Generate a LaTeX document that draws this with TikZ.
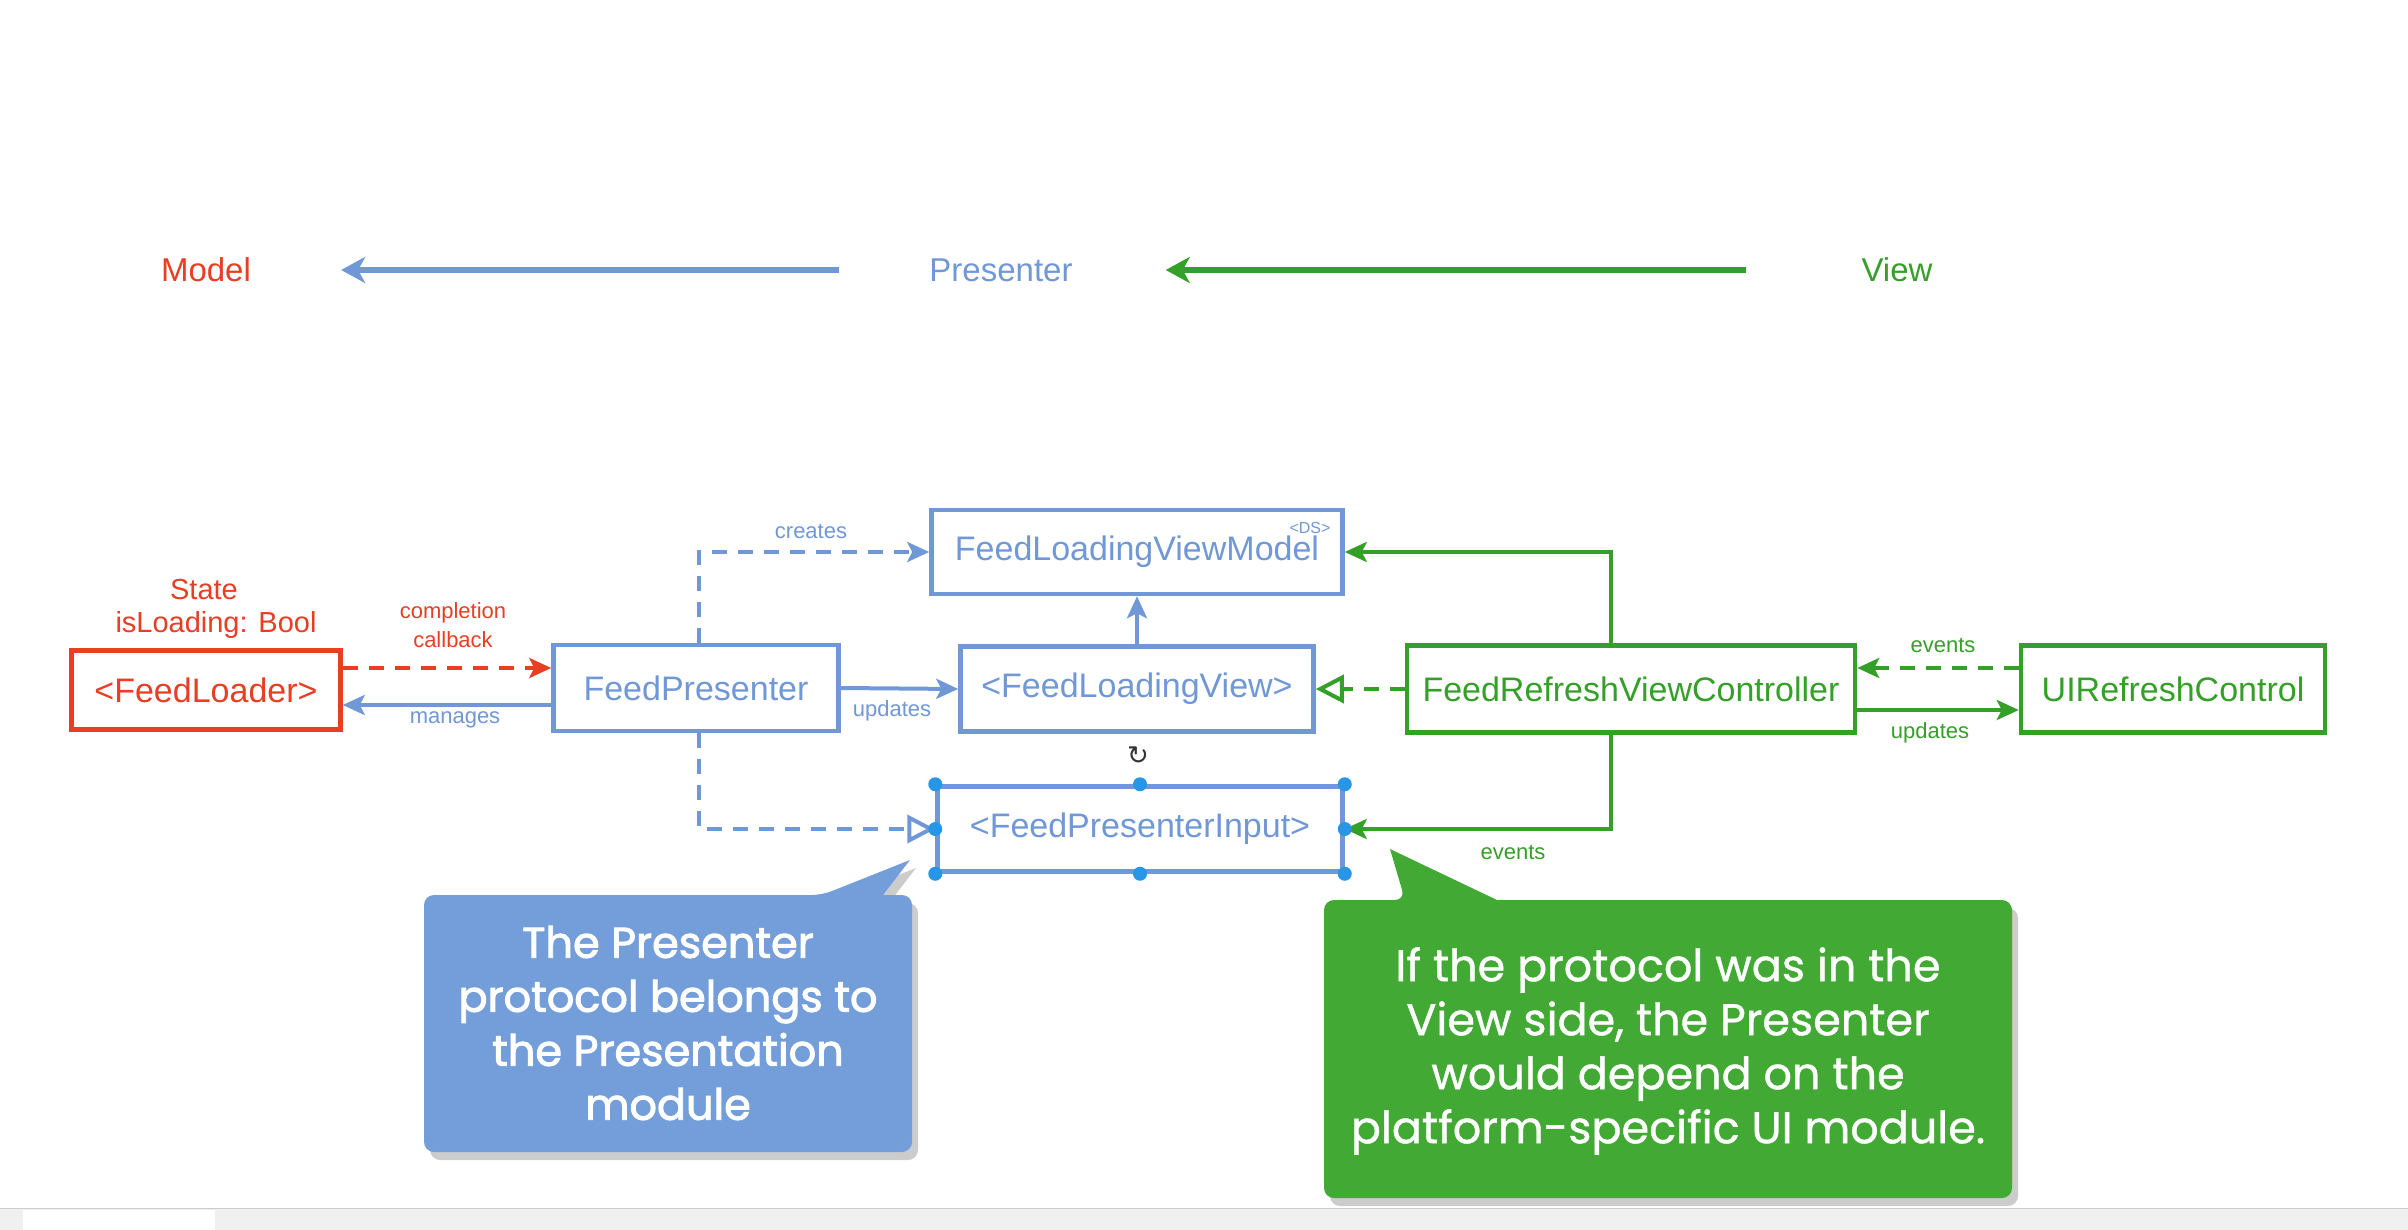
\documentclass[tikz,border=0pt]{standalone}
\usepackage{fontspec}
\setmainfont{Liberation Sans}
\newfontfamily\callfontB[FakeBold=2.2]{Poppins}
\newfontfamily\callfontG[FakeBold=0.9]{Poppins}
\newfontfamily\symfont{DejaVu Sans}
\usetikzlibrary{arrows.meta,shadows,calc}
\definecolor{mred}{RGB}{231,62,36}
\definecolor{mblue}{RGB}{112,152,214}
\definecolor{mgreen}{RGB}{52,160,40}
\definecolor{cblue}{RGB}{116,158,218}
\definecolor{cgreen}{RGB}{66,170,52}
\definecolor{hblue}{RGB}{40,150,230}
\begin{document}
\begin{tikzpicture}[x=1pt,y=-1pt,
  box/.style={draw,line width=4.5pt,inner sep=0pt,font=\fontsize{34}{40}\selectfont},
  lbl/.style={inner sep=0pt,font=\fontsize{22}{26}\selectfont},
  head/.style={inner sep=0pt,font=\fontsize{33}{38}\selectfont},
  arr/.style={line width=4pt,-{Stealth[length=22pt,width=20pt,inset=5pt]}},
  oarr/.style={line width=4pt,-{Triangle[open,length=28pt,width=28pt,line width=4pt]}},
  dsh/.style={dash pattern=on 15pt off 11pt},
  bigarr/.style={line width=6pt,-{Stealth[length=24pt,width=26pt,inset=7pt]}},
  calltext/.style={align=center,text=white,inner sep=0pt},
  callshadow/.style={drop shadow={shadow xshift=6pt,shadow yshift=-8pt,opacity=0.2,fill=black}}
]
\useasboundingbox (0,0) rectangle (2408,1230);
\fill[white] (0,0) rectangle (2408,1230);

% header
\node[head,text=mred] (mo) at (206,270) {Model};
\node[head,text=mblue] (pr) at (1001,270) {Presenter};
\node[head,text=mgreen] (vw) at (1897,270) {View};
\draw[bigarr,mblue,shorten <=90pt,shorten >=90pt] (pr.west) -- (mo.east);
\draw[bigarr,mgreen,shorten <=115pt,shorten >=93pt] (vw.west) -- (pr.east);

% boxes
\node[box,draw=mred,text=mred,minimum width=269pt,minimum height=79pt] (fl) at (206,690) {<FeedLoader>};
\node[box,draw=mblue,text=mblue,minimum width=285pt,minimum height=86pt] (fp) at (696,688) {FeedPresenter};
\node[box,draw=mblue,text=mblue,minimum width=411pt,minimum height=84pt] (flvm) at (1137,552) {FeedLoadingViewModel};
\node[box,draw=mblue,text=mblue,minimum width=353pt,minimum height=85pt] (flv) at (1137,689) {<FeedLoadingView>};
\node[box,draw=mgreen,text=mgreen,minimum width=448pt,minimum height=87pt] (frvc) at (1631,689) {FeedRefreshViewController};
\node[box,draw=mgreen,text=mgreen,minimum width=304pt,minimum height=87pt] (uirc) at (2173,689) {UIRefreshControl};
\node[box,draw=mblue,text=mblue,minimum width=405pt,minimum height=85pt] (fpi) at (1140,829) {<FeedPresenterInput>};

% small labels
\node[inner sep=0pt,text=mblue,font=\fontsize{16}{18}\selectfont] (ds) at (1310,528) {<DS>};
\node[lbl,text=mred,font=\fontsize{29}{34}\selectfont] (st) at (204,590) {State};
\node[lbl,text=mred,font=\fontsize{29}{34}\selectfont] (il) at (216,625) {isLoading: Bool};
\node[lbl,text=mred] (cp) at (453,613) {completion};
\node[lbl,text=mred] (cb) at (453,640) {callback};
\node[lbl,text=mblue] (mg) at (455,720) {manages};
\node[lbl,text=mblue] (cr) at (811,531) {creates};
\node[lbl,text=mblue] (up1) at (892,711) {updates};
\node[lbl,text=mgreen] (ev1) at (1943,645) {events};
\node[lbl,text=mgreen] (up2) at (1930,733) {updates};
\node[lbl,text=mgreen] (ev2) at (1513,852) {events};

% connectors
\coordinate (a1) at ([yshift=22pt]fl.east);
\draw[arr,dsh,mred] (a1) -- (a1 -| fp.west);
\coordinate (a2) at ([yshift=-17pt]fp.west);
\draw[arr,mblue] (a2) -- (a2 -| fl.east);
\coordinate (a3) at ([xshift=3pt]fp.north);
\draw[arr,dsh,mblue] (a3) -- (a3 |- flvm.west) -- (flvm.west);
\draw[arr,mblue] (fp.east) -- (flv.west);
\draw[arr,mblue] (flv.north) -- (flvm.south);
\draw[oarr,dsh,mgreen] (frvc.west) -- (flv.east);
\coordinate (a4) at ([xshift=-20pt]frvc.north);
\draw[arr,mgreen] (a4) -- (a4 |- flvm.east) -- (flvm.east);
\coordinate (a5) at ([yshift=21pt]uirc.west);
\draw[arr,dsh,mgreen] (a5) -- (a5 -| frvc.east);
\coordinate (a6) at ([yshift=-21pt]frvc.east);
\draw[arr,mgreen] (a6) -- (a6 -| uirc.west);
\coordinate (a7) at ([xshift=3pt]fp.south);
\draw[oarr,dsh,mblue] (a7) -- (a7 |- fpi.west) -- (fpi.west);
\coordinate (a8) at ([xshift=-20pt]frvc.south);
\draw[arr,mgreen] (a8) -- (a8 |- fpi.east) -- (fpi.east);

% selection handles
\foreach \a in {north west,north,north east,east,south east,south,south west,west}
  \fill[hblue] (fpi.\a) circle (7pt);
\node[inner sep=0pt,text=black!80,font=\symfont\fontsize{26}{28}\selectfont] (rot) at (1138,756) {↻};

% callouts
\fill[cblue,callshadow,rounded corners=10pt] (424,895) -- (822,895) [sharp corners] -- (910,860) -- (883,895) [rounded corners=10pt] -- (912,895) -- (912,1152) -- (424,1152) -- cycle;
\node[calltext,font=\callfontB\fontsize{43}{54}\selectfont] (tb) at (668,1023) {The Presenter\\protocol belongs to\\the Presentation\\module};
\fill[cgreen,callshadow,rounded corners=10pt] (1324,900) -- (1405,900) [sharp corners] -- (1390,849) -- (1497,900) [rounded corners=10pt] -- (2012,900) -- (2012,1198) -- (1324,1198) -- cycle;
\node[calltext,font=\callfontG\fontsize{44.5}{54}\selectfont] (tg) at (1668,1051) {If the protocol was in the\\View side, the Presenter\\would depend on the\\platform-specific UI module.};

% bottom strip
\fill[black!6] (0,1208) rectangle (2408,1230);
\draw[black!20,line width=1pt] (0,1208) -- (2408,1208);
\fill[white] (23,1210) rectangle (215,1230);
\end{tikzpicture}
\end{document}
